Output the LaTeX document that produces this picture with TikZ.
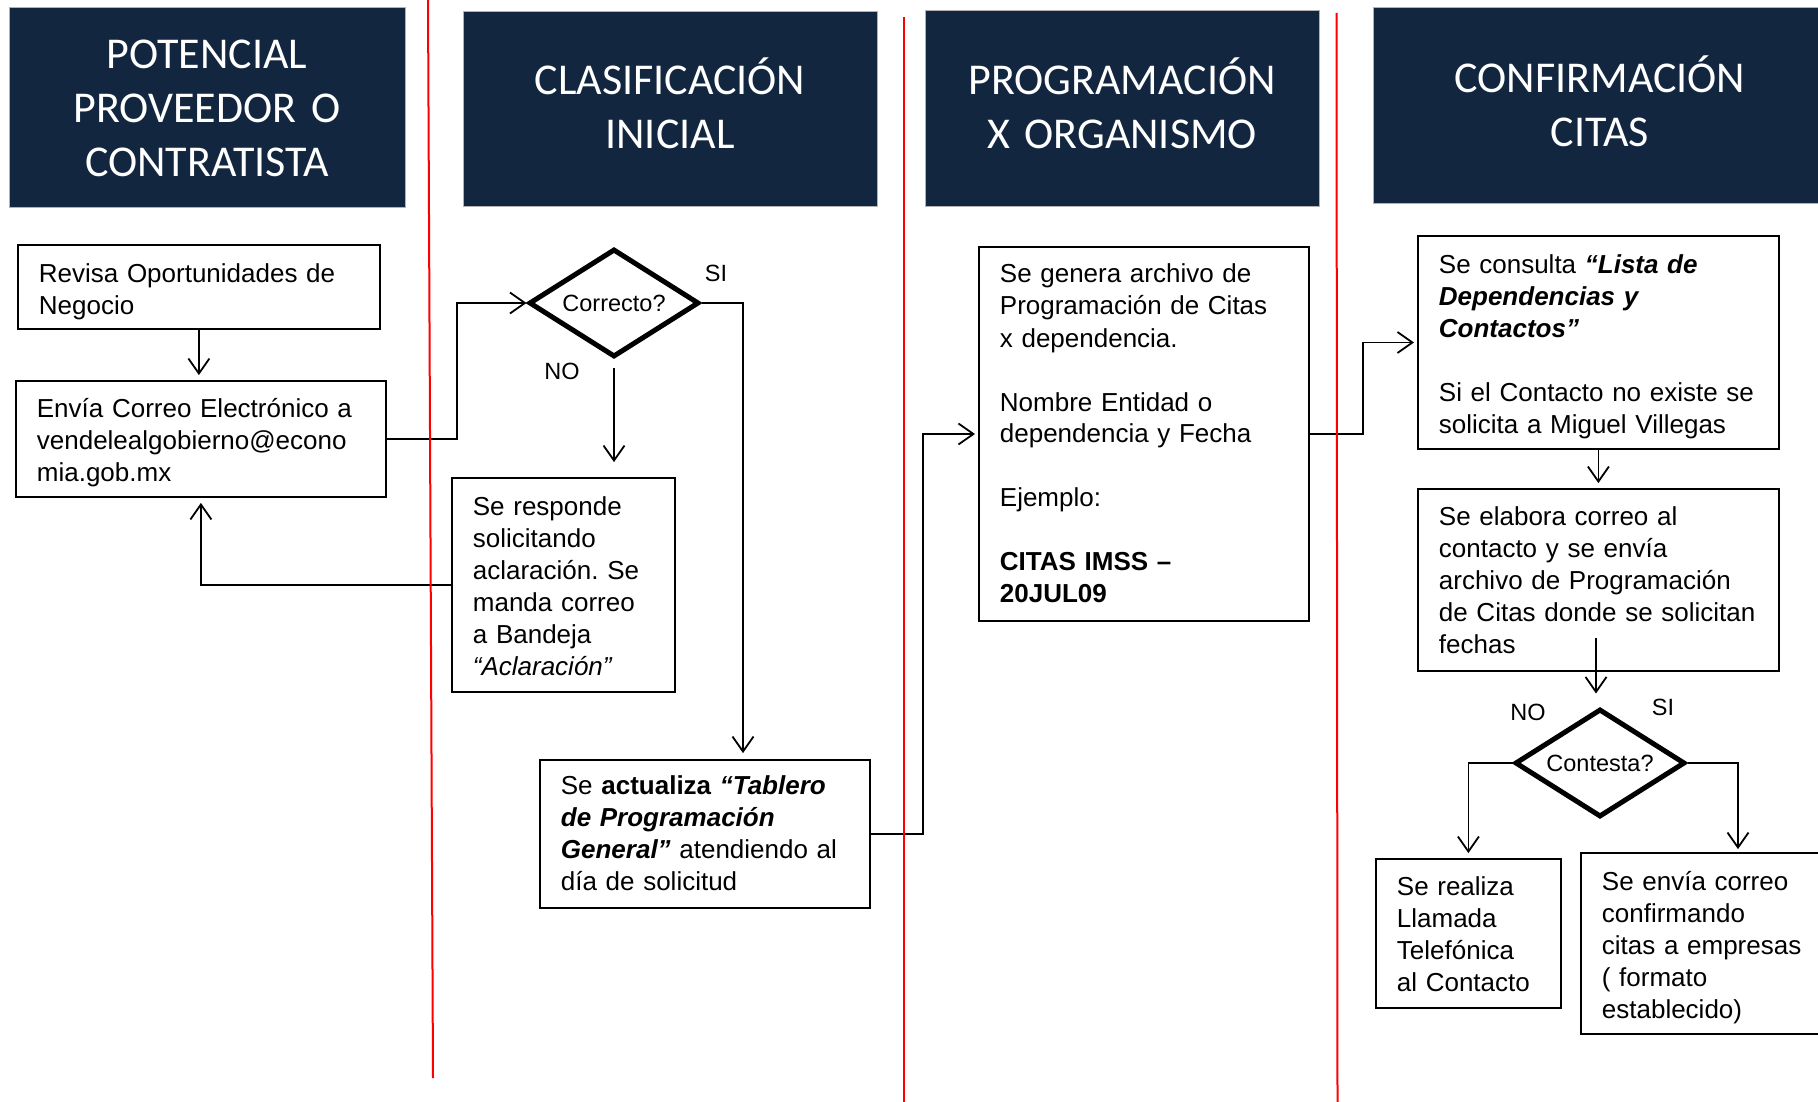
\documentclass[tikz,border=0pt]{standalone}
\usepackage{fontspec}
\setmainfont{Liberation Sans}
\newfontfamily\hdrfont{Carlito}
\usetikzlibrary{shapes.geometric,arrows.meta}
\definecolor{navy}{RGB}{19,38,64}
\tikzset{
  lane/.style={fill=navy, draw=gray!60, line width=0.8pt, text=white, anchor=base, align=center, inner sep=0pt, font=\hdrfont\fontsize{44}{54}\selectfont},
  pbox/.style={draw, line width=1.8pt, anchor=base west, align=left, inner xsep=21pt, inner ysep=0pt, font=\fontsize{26}{32}\selectfont,
    execute at begin node={\frenchspacing\hyphenpenalty=10000\exhyphenpenalty=10000}},
  dec/.style={diamond, draw, line width=5pt, aspect=1.55, minimum width=170pt, minimum height=108pt, inner sep=0pt, font=\fontsize{23.5}{28}\selectfont},
  lbl/.style={font=\fontsize{23.5}{28}\selectfont, inner sep=0pt},
  arr/.style={line width=1.8pt, -{Straight Barb[length=15pt,width=21pt]}},
  sep/.style={red, line width=2pt}
}
\begin{document}
\begin{tikzpicture}[x=1pt,y=-1pt]
  \useasboundingbox (0,0) rectangle (1818,1102);
  % lane headers
  \node[lane, text width=396pt, text height=62pt, text depth=138pt] (hpot) at (207,69) {POTENCIAL\\PROVEEDOR O\\CONTRATISTA};
  \node[lane, text width=414pt, text height=84pt, text depth=111pt] (hcla) at (670,95) {CLASIFICACIÓN\\INICIAL};
  \node[lane, text width=394pt, text height=85pt, text depth=111pt] (hpro) at (1122,95) {PROGRAMACIÓN\\X ORGANISMO};
  \node[lane, text width=454pt, text height=86pt, text depth=110pt] (hcon) at (1600,93) {CONFIRMACIÓN\\CITAS};

  % process boxes
  \node[pbox, text width=320pt, text height=38pt, text depth=46pt] (revisa) at (17,283) {Revisa Oportunidades de\\Negocio};
  \node[pbox, text width=328pt, text height=36pt, text depth=80pt] (envia) at (15,417) {Envía Correo Electrónico a\\vendelealgobierno@econo\\mia.gob.mx};
  \node[pbox, text width=181pt, text height=37pt, text depth=177pt] (respon) at (451,515) {Se responde\\solicitando\\aclaración. Se\\manda correo\\a Bandeja\\\textit{“Aclaración”}};
  \node[pbox, text width=288pt, text height=34pt, text depth=114pt] (tablero) at (539,794) {Se \textbf{actualiza \textit{“Tablero}}\\\textbf{\textit{de Programación}}\\\textbf{\textit{General”}} atendiendo al\\día de solicitud};
  \node[pbox, text width=288pt, text height=36pt, text depth=338pt] (prog) at (978,283) {Se genera archivo de\\Programación de Citas\\x dependencia.\\[32pt]Nombre Entidad o\\dependencia y Fecha\\[32pt]Ejemplo:\\[32pt]\textbf{CITAS IMSS –}\\\textbf{20JUL09}};
  \node[pbox, text width=319pt, text height=37pt, text depth=176pt] (lista) at (1417,273) {Se consulta \textbf{\textit{“Lista de}}\\\textbf{\textit{Dependencias y}}\\\textbf{\textit{Contactos”}}\\[32pt]Si el Contacto no existe se\\solicita a Miguel Villegas};
  \node[pbox, text width=319pt, text height=36pt, text depth=146pt] (elabora) at (1417,525) {Se elabora correo al\\contacto y se envía\\archivo de Programación\\de Citas donde se solicitan\\fechas};
  \node[pbox, text width=143pt, text height=36pt, text depth=113pt] (llamada) at (1375,895) {Se realiza\\Llamada\\Telefónica\\al Contacto};
  \node[pbox, text width=208pt, text height=37pt, text depth=144pt] (envcor) at (1580,890) {Se envía correo\\confirmando\\citas a empresas\\( formato\\establecido)};

  % decisions
  \node[dec] (correcto) at (614,303) {Correcto?};
  \node[dec] (contesta) at (1600,763) {Contesta?};
  \node[lbl] (siA) at (716,273) {SI};
  \node[lbl] (noA) at (562,371) {NO};
  \node[lbl] (noB) at (1528,712) {NO};
  \node[lbl] (siB) at (1663,707) {SI};

  % bend points
  \coordinate (k1) at (457,0);
  \coordinate (k2) at (743,0);
  \coordinate (k3) at (923,0);
  \coordinate (k4) at (1363,0);
  \coordinate (k5) at (1596,638);
  \coordinate (k6) at (1738,0);

  % connectors
  \draw[arr, shorten >=5pt] (revisa.south) -- (revisa.south |- envia.north);
  \draw[arr] (envia.east) -- (envia.east -| k1) |- (correcto.west);
  \draw[arr, shorten <=8pt, shorten >=15pt] (correcto.south) -- (correcto.south |- respon.north);
  \draw[arr, shorten >=5pt] (respon.west) -| (envia.south);
  \draw[arr, shorten >=6pt] (correcto.east) -| (k2 |- tablero.north);
  \draw[arr, shorten >=3pt] (tablero.east) -| (k3 |- prog.west) -- (prog.west);
  \draw[arr, shorten >=3pt] (prog.east) -| (k4 |- lista.west) -- (lista.west);
  \draw[arr, shorten >=5pt] (lista.south) -- (elabora.north);
  \draw[arr, shorten >=13pt] (k5) -- (k5 |- contesta.north);
  \draw[arr, shorten >=5pt] (contesta.west) -| (llamada.north);
  \draw[arr, shorten >=3pt] (contesta.east) -| (k6 |- envcor.north);

  % lane separators
  \draw[sep] (428,0) -- (433,1078);
  \draw[sep] (903.5,17) -- (903.5,1102);
  \draw[sep] (1336.5,13) -- (1337.5,1102);
\end{tikzpicture}
\end{document}
